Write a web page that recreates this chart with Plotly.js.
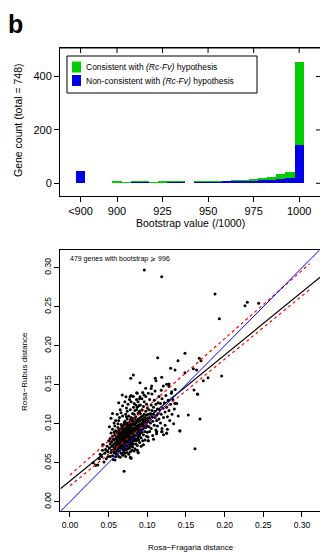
<!DOCTYPE html>
<html>
<head>
<meta charset="utf-8">
<script src="https://cdn.plot.ly/plotly-3.0.1.min.js"></script>
<style>
  html, body { margin: 0; padding: 0; background: #fff; overflow: hidden; }
  #hist { position: absolute; left: 0; top: 0; width: 326px; height: 240px; }
  #scat { position: absolute; left: 0; top: 240px; width: 326px; height: 313px; }
</style>
</head>
<body>
<div id="hist"></div>
<div id="scat"></div>
<script>
// ---- Panel b, top: bootstrap support histogram ----
const binCenters = [880, 900, 905, 910, 915, 920, 925, 930, 935, 940, 945, 950,
                    955, 960, 965, 970, 975, 980, 985, 990, 995, 1000];
const nonConsistent = [46, 0, 0, 6, 6, 0, 0, 6, 6, 3, 6, 6, 6, 7, 8, 9, 9, 11, 11, 15, 19, 144];
const consistent    = [0, 7, 4, 1, 4, 4, 7, 1, 4, 0, 4, 1, 1, 3, 5, 5, 8, 8, 13, 18, 25, 312];
const bootTickVals  = [880, 900, 925, 950, 975, 1000];
const bootTickText  = ['<900', '900', '925', '950', '975', '1000'];
const countTicks    = [0, 200, 400];
const legendLabels  = ['Consistent with <i>(Rc-Fv)</i> hypothesis',
                       'Non-consistent with <i>(Rc-Fv)</i> hypothesis'];

// ---- Panel b, bottom: pairwise distances for genes with bootstrap >= 996 ----
const genePairs = [
  // sparse lower-left tail
  [0.030,0.050],[0.033,0.047],[0.036,0.047],[0.038,0.055],[0.039,0.061],[0.041,0.058],
  [0.042,0.066],[0.043,0.073],[0.044,0.051],[0.045,0.062],[0.046,0.067],[0.047,0.055],
  [0.048,0.071],[0.049,0.064],[0.049,0.058],[0.050,0.078],
  // 0.05 - 0.06
  [0.051,0.069],[0.052,0.074],[0.052,0.081],[0.053,0.063],[0.053,0.088],[0.054,0.071],
  [0.054,0.077],[0.055,0.059],[0.055,0.084],[0.055,0.093],[0.056,0.066],[0.056,0.073],
  [0.057,0.079],[0.057,0.069],[0.057,0.101],[0.058,0.062],[0.058,0.086],[0.058,0.075],
  [0.059,0.081],[0.059,0.070],[0.059,0.091],[0.060,0.064],[0.060,0.077],[0.060,0.083],
  [0.051,0.096],[0.053,0.107],[0.056,0.054],[0.058,0.097],[0.054,0.066],[0.052,0.058],
  [0.057,0.089],[0.059,0.058],[0.055,0.072],[0.056,0.080],[0.058,0.068],[0.060,0.072],
  [0.053,0.077],[0.057,0.063],[0.059,0.104],[0.055,0.113],
  // 0.06 - 0.07
  [0.061,0.070],[0.061,0.079],[0.061,0.088],[0.061,0.061],[0.062,0.074],[0.062,0.083],
  [0.062,0.095],[0.062,0.067],[0.063,0.077],[0.063,0.086],[0.063,0.058],[0.063,0.104],
  [0.064,0.072],[0.064,0.081],[0.064,0.090],[0.064,0.065],[0.065,0.076],[0.065,0.084],
  [0.065,0.093],[0.065,0.069],[0.065,0.118],[0.066,0.079],[0.066,0.087],[0.066,0.062],
  [0.066,0.099],[0.067,0.073],[0.067,0.082],[0.067,0.091],[0.067,0.068],[0.068,0.077],
  [0.068,0.085],[0.068,0.095],[0.068,0.060],[0.068,0.110],[0.069,0.071],[0.069,0.080],
  [0.069,0.089],[0.069,0.066],[0.070,0.075],[0.070,0.084],[0.070,0.093],[0.070,0.101],
  [0.061,0.083],[0.062,0.089],[0.063,0.070],[0.064,0.085],[0.065,0.080],[0.066,0.074],
  [0.066,0.092],[0.067,0.078],[0.067,0.087],[0.068,0.072],[0.068,0.081],[0.069,0.076],
  [0.069,0.084],[0.070,0.070],[0.070,0.079],[0.063,0.092],[0.064,0.078],[0.065,0.088],
  [0.066,0.083],[0.067,0.096],[0.068,0.090],[0.069,0.098],[0.061,0.066],[0.062,0.078],
  [0.063,0.082],[0.064,0.075],[0.065,0.073],[0.066,0.070],[0.067,0.085],[0.068,0.068],
  [0.069,0.093],[0.070,0.088],[0.062,0.100],[0.064,0.108],[0.066,0.114],[0.067,0.062],
  [0.069,0.060],[0.065,0.057],[0.070,0.064],[0.068,0.123],[0.063,0.127],[0.061,0.112],
  // 0.07 - 0.08
  [0.071,0.078],[0.071,0.086],[0.071,0.094],[0.071,0.069],[0.072,0.082],[0.072,0.090],
  [0.072,0.099],[0.072,0.073],[0.073,0.085],[0.073,0.077],[0.073,0.093],[0.073,0.067],
  [0.074,0.080],[0.074,0.088],[0.074,0.097],[0.074,0.106],[0.075,0.083],[0.075,0.091],
  [0.075,0.075],[0.075,0.100],[0.076,0.087],[0.076,0.079],[0.076,0.095],[0.076,0.070],
  [0.077,0.084],[0.077,0.092],[0.077,0.102],[0.077,0.076],[0.078,0.088],[0.078,0.080],
  [0.078,0.097],[0.078,0.064],[0.079,0.085],[0.079,0.093],[0.079,0.077],[0.079,0.108],
  [0.080,0.089],[0.080,0.082],[0.080,0.099],[0.080,0.071],[0.071,0.103],[0.072,0.112],
  [0.073,0.120],[0.074,0.116],[0.075,0.125],[0.076,0.110],[0.077,0.131],[0.078,0.118],
  [0.079,0.128],[0.071,0.062],[0.072,0.058],[0.074,0.063],[0.076,0.061],[0.078,0.057],
  [0.080,0.066],[0.073,0.088],[0.074,0.084],[0.075,0.079],[0.076,0.091],[0.077,0.088],
  [0.078,0.084],[0.079,0.081],[0.080,0.094],[0.071,0.082],[0.072,0.086],[0.073,0.096],
  [0.075,0.087],[0.076,0.083],[0.077,0.080],[0.078,0.092],[0.079,0.089],[0.080,0.086],
  [0.072,0.077],[0.074,0.092],[0.075,0.095],[0.076,0.099],[0.077,0.096],[0.079,0.100],
  [0.080,0.104],[0.071,0.090],[0.073,0.081],[0.074,0.071],[0.076,0.075],[0.078,0.072],
  [0.080,0.076],[0.075,0.068],[0.077,0.069],[0.079,0.074],[0.072,0.067],[0.074,0.101],
  [0.078,0.105],[0.073,0.109],[0.071,0.128],[0.079,0.136],[0.070,0.039],
  // 0.08 - 0.09
  [0.081,0.087],[0.081,0.095],[0.081,0.079],[0.081,0.104],[0.082,0.091],[0.082,0.083],
  [0.082,0.099],[0.082,0.074],[0.083,0.094],[0.083,0.086],[0.083,0.102],[0.083,0.112],
  [0.084,0.090],[0.084,0.098],[0.084,0.081],[0.084,0.068],[0.085,0.093],[0.085,0.101],
  [0.085,0.085],[0.085,0.109],[0.086,0.097],[0.086,0.089],[0.086,0.078],[0.086,0.118],
  [0.087,0.094],[0.087,0.102],[0.087,0.086],[0.087,0.072],[0.088,0.098],[0.088,0.091],
  [0.088,0.106],[0.088,0.082],[0.089,0.095],[0.089,0.103],[0.089,0.088],[0.089,0.114],
  [0.090,0.099],[0.090,0.092],[0.090,0.107],[0.090,0.076],[0.081,0.113],[0.082,0.121],
  [0.083,0.126],[0.084,0.117],[0.085,0.124],[0.086,0.131],[0.087,0.121],[0.088,0.128],
  [0.089,0.123],[0.090,0.132],[0.081,0.070],[0.083,0.065],[0.085,0.074],[0.087,0.066],
  [0.089,0.079],[0.082,0.107],[0.084,0.106],[0.086,0.104],[0.088,0.113],[0.090,0.116],
  [0.083,0.078],[0.085,0.079],[0.087,0.080],[0.089,0.084],[0.081,0.100],[0.084,0.094],
  [0.086,0.093],[0.088,0.087],[0.090,0.086],[0.082,0.135],[0.087,0.139],[0.088,0.063],
  [0.079,0.056],
  // 0.09 - 0.10
  [0.091,0.096],[0.091,0.104],[0.091,0.088],[0.091,0.113],[0.092,0.100],[0.092,0.092],
  [0.092,0.109],[0.092,0.082],[0.093,0.097],[0.093,0.105],[0.093,0.118],[0.093,0.089],
  [0.094,0.101],[0.094,0.110],[0.094,0.093],[0.094,0.078],[0.095,0.098],[0.095,0.106],
  [0.095,0.122],[0.095,0.086],[0.096,0.103],[0.096,0.112],[0.096,0.095],[0.096,0.128],
  [0.097,0.100],[0.097,0.108],[0.097,0.090],[0.098,0.104],[0.098,0.116],[0.098,0.095],
  [0.099,0.101],[0.099,0.111],[0.099,0.084],[0.100,0.106],[0.100,0.097],[0.100,0.120],
  [0.091,0.124],[0.093,0.132],[0.095,0.073],[0.097,0.079],[0.099,0.125],[0.092,0.071],
  [0.098,0.135],[0.094,0.140],[0.100,0.089],
  // 0.10 - 0.115
  [0.101,0.103],[0.101,0.112],[0.102,0.096],[0.102,0.118],[0.103,0.107],[0.103,0.090],
  [0.104,0.113],[0.104,0.101],[0.105,0.124],[0.105,0.094],[0.106,0.109],[0.106,0.117],
  [0.107,0.103],[0.107,0.085],[0.108,0.112],[0.108,0.121],[0.109,0.098],[0.109,0.130],
  [0.110,0.108],[0.110,0.116],[0.111,0.092],[0.111,0.125],[0.112,0.111],[0.112,0.104],
  [0.113,0.119],[0.113,0.097],[0.114,0.127],[0.114,0.113],[0.115,0.106],[0.115,0.135],
  [0.103,0.131],[0.106,0.138],[0.108,0.080],[0.110,0.142],[0.112,0.087],[0.105,0.145],
  [0.101,0.083],[0.101,0.078],
  // 0.115 - 0.14
  [0.116,0.118],[0.117,0.101],[0.117,0.126],[0.118,0.112],[0.119,0.132],[0.119,0.094],
  [0.120,0.120],[0.121,0.108],[0.122,0.127],[0.123,0.115],[0.123,0.098],[0.124,0.136],
  [0.125,0.121],[0.126,0.109],[0.127,0.130],[0.128,0.117],[0.129,0.104],[0.130,0.125],
  [0.131,0.139],[0.132,0.112],[0.133,0.131],[0.135,0.119],[0.136,0.144],[0.138,0.126],
  [0.140,0.110],[0.121,0.086],[0.126,0.093],[0.118,0.143],[0.128,0.148],[0.134,0.100],
  [0.112,0.090],[0.119,0.090],[0.125,0.088],[0.142,0.091],[0.136,0.126],
  // scattered upper points and outliers
  [0.0961,0.2971],[0.1186,0.2885],[0.1875,0.2663],[0.1931,0.2346],[0.2263,0.2513],
  [0.2293,0.2556],[0.2440,0.2544],[0.1134,0.1846],[0.1487,0.1903],[0.1397,0.1808],
  [0.1302,0.1710],[0.1358,0.1688],[0.1672,0.1838],[0.1694,0.1808],[0.1595,0.1705],
  [0.1638,0.1688],[0.1487,0.1654],[0.1785,0.1590],[0.1961,0.1612],[0.1724,0.1551],
  [0.1604,0.1432],[0.1651,0.1377],[0.0819,0.1624],[0.0785,0.1582],[0.0905,0.1526],
  [0.1103,0.1582],[0.1186,0.1595],[0.1112,0.1551],[0.0979,0.1454],[0.1056,0.1483],
  [0.1207,0.1483],[0.1250,0.1505],[0.1280,0.1509],[0.1315,0.1410],[0.1013,0.1390],
  [0.0862,0.1397],[0.0905,0.1346],[0.0957,0.1368],[0.0676,0.1368],[0.0724,0.1346],
  [0.0776,0.1346],[0.1616,0.0680],[0.1422,0.0906],[0.1250,0.0877],[0.1186,0.0897],
  [0.1121,0.0897],[0.1013,0.0782],[0.0883,0.0628],[0.0789,0.0556],[0.0582,0.0535],
  [0.0423,0.0727],[0.0336,0.0467],[0.1681,0.1060],[0.1530,0.1112],[0.1646,0.1381],
  [0.1358,0.1262]
];
const rosaFragaria = genePairs.map(p => p[0]);
const rosaRubus    = genePairs.map(p => p[1]);

// fitted lines: [intercept, slope]
const fitLine   = [0.0267, 0.807];
const bandUpper = [0.0342, 0.874];
const bandLower = [0.0205, 0.811];
const identity  = [0, 1];
const bandSpan  = [0, 0.31];
const distTicks = [0, 0.05, 0.10, 0.15, 0.20, 0.25, 0.30];

// ---- shared styling ----
const W = 326;
const GREEN = 'rgb(0,205,0)';
const BLUE  = 'rgb(0,0,230)';
const FONT  = 'Liberation Sans, Arial, Helvetica, sans-serif';
const axisBase = {
  showgrid: false, zeroline: false, showline: true, mirror: true,
  linecolor: 'black', linewidth: 1, tickcolor: 'black', tickwidth: 1,
  fixedrange: true
};
const fx = px => px / W;
const blackLine = { color: 'black', width: 1 };

// =========================== histogram ===========================
const H1 = 240;
const fy1 = py => 1 - py / H1;
const topX = [868.7, 1012], topY = [-47.6, 507];
const topBox = { left: 60, right: 321, top: 48, bottom: 196 };
const topPxX = v => topBox.left + (v - topX[0]) / (topX[1] - topX[0]) * (topBox.right - topBox.left);
const topPxY = v => topBox.bottom - (v - topY[0]) / (topY[1] - topY[0]) * (topBox.bottom - topBox.top);

// key box: frame plus one swatch per series
const keyBox = { left: 67, right: 257, top: 56, bottom: 93 };
const keyRows = [67, 80.5];
const keyColors = [GREEN, BLUE];

const histShapes = [
  // frame top edge
  { type: 'line', xref: 'paper', yref: 'paper',
    x0: fx(topBox.left), x1: fx(topBox.right), y0: fy1(topBox.top), y1: fy1(topBox.top),
    line: blackLine },
  // key frame
  { type: 'rect', xref: 'paper', yref: 'paper',
    x0: fx(keyBox.left), x1: fx(keyBox.right), y0: fy1(keyBox.bottom), y1: fy1(keyBox.top),
    line: blackLine, fillcolor: 'white' }
].concat(keyRows.map((ry, i) => ({
  type: 'rect', xref: 'paper', yref: 'paper',
  x0: fx(72), x1: fx(81), y0: fy1(ry + 5.5), y1: fy1(ry - 5.5),
  line: { width: 0 }, fillcolor: keyColors[i]
}))).concat(bootTickVals.map(v => ({
  // inward ticks along the top edge
  type: 'line', xref: 'paper', yref: 'paper',
  x0: fx(topPxX(v)), x1: fx(topPxX(v)), y0: fy1(topBox.top), y1: fy1(topBox.top + 5),
  line: blackLine
}))).concat(countTicks.map(v => ({
  // inward ticks along the right edge
  type: 'line', xref: 'paper', yref: 'paper',
  x0: fx(topBox.right), x1: fx(topBox.right - 5), y0: fy1(topPxY(v)), y1: fy1(topPxY(v)),
  line: blackLine
})));

const histTraces = [
  { type: 'bar', name: legendLabels[1], x: binCenters, y: nonConsistent, width: 5,
    marker: { color: BLUE, line: { width: 0 } } },
  { type: 'bar', name: legendLabels[0], x: binCenters, y: consistent, width: 5,
    marker: { color: GREEN, line: { width: 0 } } }
];

const histLayout = {
  width: W, height: H1, margin: { l: 0, r: 0, t: 0, b: 0 },
  paper_bgcolor: 'rgba(0,0,0,0)', plot_bgcolor: 'rgba(0,0,0,0)',
  font: { family: FONT, color: 'black' },
  barmode: 'stack', bargap: 0, showlegend: false,
  xaxis: Object.assign({}, axisBase, {
    domain: [fx(topBox.left), fx(topBox.right)], range: topX,
    tickmode: 'array', tickvals: bootTickVals, ticktext: bootTickText,
    ticks: 'outside', ticklen: 5, tickfont: { size: 11 }
  }),
  yaxis: Object.assign({}, axisBase, {
    domain: [fy1(topBox.bottom), fy1(topBox.top)], range: topY,
    tickmode: 'array', tickvals: countTicks, ticks: 'outside', ticklen: 5,
    tickfont: { size: 11 }
  }),
  shapes: histShapes,
  annotations: [
    { text: '<b>b</b>', x: fx(6), y: fy1(24), xref: 'paper', yref: 'paper',
      xanchor: 'left', yanchor: 'middle', showarrow: false,
      font: { size: 25, family: FONT } },
    { text: 'Gene count (total = 748)', x: fx(18), y: fy1(120),
      xref: 'paper', yref: 'paper', xanchor: 'center', yanchor: 'middle',
      textangle: -90, showarrow: false, font: { size: 10.5, family: FONT } },
    { text: 'Bootstrap value (/1000)', x: fx(190), y: fy1(223),
      xref: 'paper', yref: 'paper', xanchor: 'center', yanchor: 'middle',
      showarrow: false, font: { size: 10.5, family: FONT } }
  ].concat(keyRows.map((ry, i) => ({
    text: legendLabels[i], x: fx(84), y: fy1(ry), xref: 'paper', yref: 'paper',
    xanchor: 'left', yanchor: 'middle', showarrow: false,
    font: { size: 8.5, family: FONT }
  })))
};

// =========================== scatter ===========================
const Y0 = 240, H2 = 313;
const fy2 = py => 1 - (py - Y0) / H2;
const distX = [-0.0124, 0.3246], distY = [-0.0124, 0.3224];

function lineTrace(coef, xs, color, dash, width) {
  return {
    type: 'scatter', mode: 'lines',
    x: xs, y: xs.map(v => coef[0] + coef[1] * v),
    line: { color: color, width: width, dash: dash },
    showlegend: false, hoverinfo: 'skip'
  };
}

const scatTraces = [
  { type: 'scatter', mode: 'markers', x: rosaFragaria, y: rosaRubus,
    marker: { color: 'black', size: 3, line: { width: 0 } }, showlegend: false },
  lineTrace(fitLine, distX, 'black', 'solid', 1.1),
  lineTrace(bandUpper, bandSpan, 'rgb(255,0,0)', '3px,3px', 1.2),
  lineTrace(bandLower, bandSpan, 'rgb(255,0,0)', '3px,3px', 1.2),
  lineTrace(identity, distX, 'rgb(0,0,255)', 'solid', 1)
];

const scatLayout = {
  width: W, height: H2, margin: { l: 0, r: 0, t: 0, b: 0 },
  paper_bgcolor: 'rgba(0,0,0,0)', plot_bgcolor: 'rgba(0,0,0,0)',
  font: { family: FONT, color: 'black' },
  showlegend: false,
  xaxis: Object.assign({}, axisBase, {
    domain: [fx(60.4), fx(321)], range: distX,
    tickmode: 'array', tickvals: distTicks, tickformat: '.2f',
    ticks: 'outside', ticklen: 5, tickfont: { size: 8.5 }
  }),
  yaxis: Object.assign({}, axisBase, {
    domain: [fy2(511.4), fy2(250.2)], range: distY,
    tickmode: 'array', tickvals: distTicks, tickformat: '.2f',
    ticks: 'outside', ticklen: 5, tickfont: { size: 8.5 }, tickangle: -90
  }),
  annotations: [
    { text: '479 genes with bootstrap \u2A7E 996', x: fx(68), y: fy2(258.5),
      xref: 'paper', yref: 'paper', xanchor: 'left', yanchor: 'middle',
      showarrow: false, font: { size: 7, family: FONT } },
    { text: 'Rosa\u2212Rubus distance', x: fx(25), y: fy2(372),
      xref: 'paper', yref: 'paper', xanchor: 'center', yanchor: 'middle',
      textangle: -90, showarrow: false, font: { size: 8, family: FONT } },
    { text: 'Rosa\u2212Fragaria distance', x: fx(191), y: fy2(547),
      xref: 'paper', yref: 'paper', xanchor: 'center', yanchor: 'middle',
      showarrow: false, font: { size: 8, family: FONT } }
  ]
};

const cfg = { staticPlot: true, displayModeBar: false };
Plotly.newPlot('hist', histTraces, histLayout, cfg);
Plotly.newPlot('scat', scatTraces, scatLayout, cfg);
</script>
</body>
</html>
